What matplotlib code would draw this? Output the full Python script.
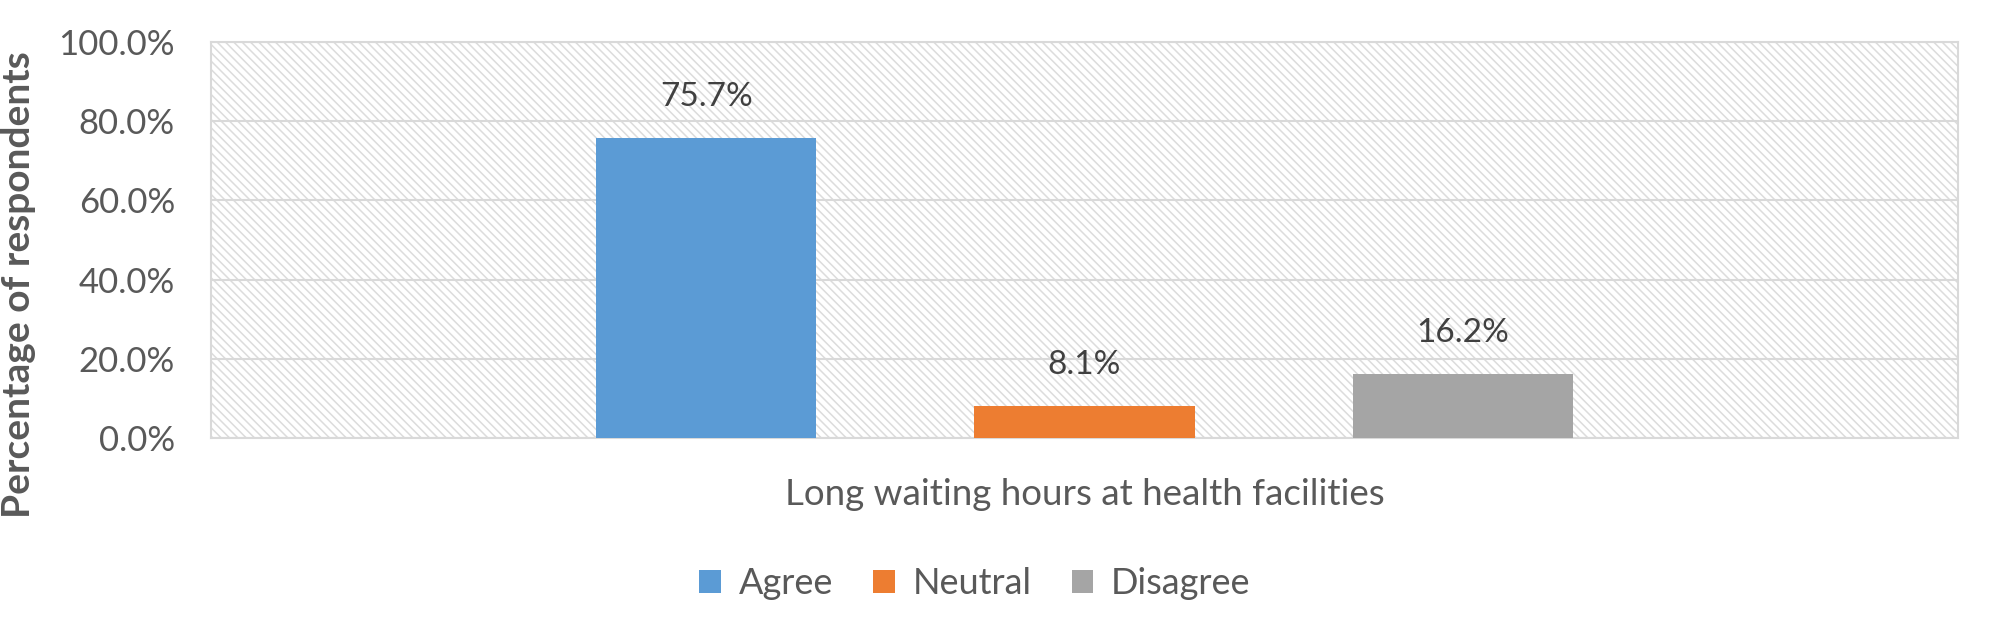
import matplotlib
matplotlib.use("Agg")
import matplotlib.pyplot as plt
from matplotlib.patches import Rectangle, Patch

# chart data
categories = ["Long waiting hours at health facilities"]
series = ["Agree", "Neutral", "Disagree"]
values = [75.7, 8.1, 16.2]
colors = ["#5B9BD5", "#ED7D31", "#A5A5A5"]
yticks = [0, 20, 40, 60, 80, 100]

plt.rcParams['font.family'] = ['Lato', 'DejaVu Sans']
plt.rcParams['hatch.linewidth'] = 1.1

W, H = 2001, 627
fig = plt.figure(figsize=(W / 100, H / 100), dpi=100)
ax = fig.add_axes([211 / W, 1 - 438 / H, (1958 - 211) / W, (438 - 42) / H])

# hatched plot-area background
bg = Rectangle((0, 0), 1, 1, transform=ax.transAxes, facecolor='white',
               edgecolor='#dcdcdc', hatch='\\\\\\\\', linewidth=0, zorder=0)
ax.add_patch(bg)

for i, (s, v, c) in enumerate(zip(series, values, colors)):
    ax.bar(i, v, width=0.582, color=c, zorder=3)
    ax.annotate(f"{v}%", (i, v), xytext=(0, 23), textcoords='offset points',
                ha='center', va='baseline', fontsize=24, color='#404040')

ax.set_xlim(1 - 2.31, 1 + 2.31)
ax.set_ylim(0, 100)
ax.set_yticks(yticks)
ax.set_yticklabels([f"{t:.1f}%" for t in yticks])
ax.set_xticks([1])
ax.set_xticklabels(categories)
ax.tick_params(axis='y', length=0, pad=26, labelsize=25, labelcolor='#595959')
ax.tick_params(axis='x', length=0, pad=29, labelsize=26.5, labelcolor='#595959')

ax.yaxis.grid(True, color='#d9d9d9', linewidth=1.5, zorder=1)
ax.set_axisbelow(True)
for sp in ax.spines.values():
    sp.set_color('#d9d9d9')
    sp.set_linewidth(1.5)

fig.text(19 / W, 1 - 285 / H, "Percentage of respondents", rotation=90,
         fontweight='bold', fontsize=28, color='#595959',
         ha='center', va='center')

handles = [Patch(facecolor=c, label=s) for s, c in zip(series, colors)]
fig.legend(handles=handles, loc='center', bbox_to_anchor=(975 / W, 1 - 584 / H),
           ncol=3, frameon=False, fontsize=26, handlelength=0.6, handleheight=0.6,
           handletextpad=0.5, columnspacing=1.1, labelcolor='#595959')

fig.savefig('out.png', dpi=100)
